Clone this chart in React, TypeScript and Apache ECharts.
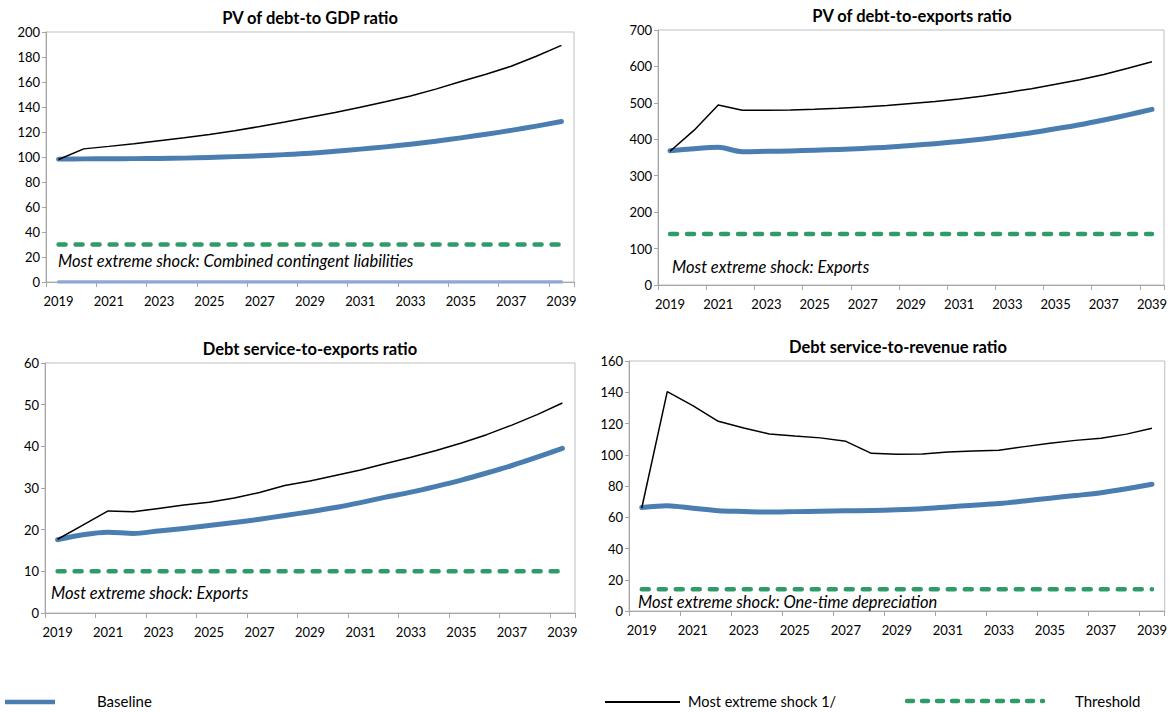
import React, { useEffect, useRef } from "react";
import * as echarts from "echarts";

const years = ["2019","2020","2021","2022","2023","2024","2025","2026","2027","2028","2029","2030","2031","2032","2033","2034","2035","2036","2037","2038","2039"];

// Panel 1: PV of debt-to GDP ratio
const gdpBaseline = [98.3, 98.5, 98.6, 98.7, 98.8, 99.1, 99.6, 100.3, 101.0, 101.9, 103.0, 104.6, 106.3, 108.1, 110.2, 112.6, 115.3, 118.2, 121.3, 124.7, 128.4];
const gdpShock = [98.0, 106.5, 108.5, 110.6, 113.0, 115.4, 118.0, 121.0, 124.4, 128.0, 131.8, 135.6, 139.8, 144.2, 148.8, 154.3, 160.4, 166.2, 172.6, 180.6, 189.3];
const gdpThreshold = [30,30,30,30,30,30,30,30,30,30,30,30,30,30,30,30,30,30,30,30,30];
const gdpZero = [0,0,0,0,0,0,0,0,0,0,0,0,0,0,0,0,0,0,0,0,0];

// Panel 2: PV of debt-to-exports ratio
const expBaseline = [368.7, 374, 378, 366, 367, 368, 370, 372, 375, 378, 383, 388, 394, 401, 409, 418, 429, 440, 453, 467, 482];
const expShock = [367, 425, 494, 479.5, 479.5, 480.5, 482.5, 485, 488.5, 493, 498.5, 504, 510.6, 519, 528.5, 539, 550.8, 563.5, 578, 595, 613];
const expThreshold = [140,140,140,140,140,140,140,140,140,140,140,140,140,140,140,140,140,140,140,140,140];

// Panel 3: Debt service-to-exports ratio
const dsExpBaseline = [17.6, 18.8, 19.4, 19.1, 19.7, 20.3, 21.0, 21.7, 22.5, 23.4, 24.3, 25.3, 26.5, 27.8, 29.0, 30.4, 31.9, 33.6, 35.4, 37.4, 39.5];
const dsExpShock = [17.7, 21.1, 24.5, 24.3, 25.1, 25.9, 26.6, 27.6, 28.9, 30.6, 31.7, 33.0, 34.3, 35.9, 37.4, 39.0, 40.8, 42.8, 45.1, 47.6, 50.4];
const dsExpThreshold = [10,10,10,10,10,10,10,10,10,10,10,10,10,10,10,10,10,10,10,10,10];

// Panel 4: Debt service-to-revenue ratio
const dsRevBaseline = [66.2, 67.4, 65.8, 64.2, 63.7, 63.3, 63.6, 63.9, 64.1, 64.3, 64.8, 65.5, 66.6, 67.7, 68.8, 70.4, 72.2, 73.9, 75.7, 78.2, 81.1];
const dsRevShock = [65.9, 140.4, 131.4, 121.4, 117.1, 113.3, 112.0, 110.8, 108.6, 100.9, 100.3, 100.5, 101.7, 102.4, 102.9, 105.2, 107.3, 109.2, 110.5, 113.2, 116.9];
const dsRevThreshold = [14,14,14,14,14,14,14,14,14,14,14,14,14,14,14,14,14,14,14,14,14];

const titles = ["PV of debt-to GDP ratio", "PV of debt-to-exports ratio", "Debt service-to-exports ratio", "Debt service-to-revenue ratio"];
const annotations = ["Most extreme shock: Combined contingent liabilities", "Most extreme shock: Exports", "Most extreme shock: Exports", "Most extreme shock: One-time depreciation"];
const yMax = [200, 700, 60, 160];
const yStep = [20, 100, 10, 20];
const legendLabels = ["Baseline", "Most extreme shock 1/", "Threshold"];

const BLUE = "#4a7eb1";
const GREEN = "#2e9b68";
const LIGHTBLUE = "#8ea8d4";
const FONT = "Lato, 'Noto Sans', sans-serif";

const grids = [
  { left: 46, top: 32, width: 528, height: 250 },
  { left: 658, top: 30, width: 508, height: 255 },
  { left: 45, top: 363, width: 530, height: 250 },
  { left: 629, top: 361, width: 538, height: 250 },
];
const annotPos = [
  { x: 58, y: 261 },
  { x: 672, y: 267 },
  { x: 51, y: 593 },
  { x: 638, y: 602 },
];

export default function App() {
  const ref = useRef<HTMLDivElement>(null);
  useEffect(() => {
    if (!ref.current) return;
    const chart = echarts.init(ref.current, undefined, { renderer: "svg" });
    const baselines = [gdpBaseline, expBaseline, dsExpBaseline, dsRevBaseline];
    const shocks = [gdpShock, expShock, dsExpShock, dsRevShock];
    const thresholds = [gdpThreshold, expThreshold, dsExpThreshold, dsRevThreshold];

    const series: any[] = [];
    grids.forEach((_, i) => {
      if (i === 0) {
        series.push({
          type: "line", xAxisIndex: i, yAxisIndex: i, data: gdpZero, showSymbol: false, silent: true,
          lineStyle: { color: LIGHTBLUE, width: 3.5, cap: "round" }, z: 1,
        });
      }
      series.push({
        name: "Threshold", type: "line", xAxisIndex: i, yAxisIndex: i, data: thresholds[i], showSymbol: false,
        lineStyle: { color: GREEN, width: 4.5, type: [7, 10], cap: "round" }, z: 2,
      });
      series.push({
        name: "Baseline", type: "line", xAxisIndex: i, yAxisIndex: i, data: baselines[i], showSymbol: false, smooth: 0.3,
        lineStyle: { color: BLUE, width: 5, cap: "round", join: "round" }, z: 3,
      });
      series.push({
        name: "Most extreme shock 1/", type: "line", xAxisIndex: i, yAxisIndex: i, data: shocks[i], showSymbol: false,
        lineStyle: { color: "#000000", width: 1.5 }, z: 4,
      });
    });

    const graphic: any[] = [];
    grids.forEach((g, i) => {
      graphic.push({
        type: "text", x: g.left + g.width / 2, y: g.top - 14,
        style: { text: titles[i], font: `bold 16.5px ${FONT}`, fill: "#000", textAlign: "center", textVerticalAlign: "middle" },
      });
      graphic.push({
        type: "text", x: annotPos[i].x, y: annotPos[i].y,
        style: { text: annotations[i], font: `italic 16.5px ${FONT}`, fill: "#000", textAlign: "left", textVerticalAlign: "middle" },
        z: 10,
      });
    });
    // legend
    graphic.push({ type: "line", shape: { x1: 5, y1: 702, x2: 55, y2: 702 }, style: { stroke: BLUE, lineWidth: 4.5 } });
    graphic.push({ type: "text", x: 97, y: 701, style: { text: legendLabels[0], font: `15px ${FONT}`, fill: "#000", textVerticalAlign: "middle" } });
    graphic.push({ type: "line", shape: { x1: 605, y1: 702, x2: 680, y2: 702 }, style: { stroke: "#000", lineWidth: 2 } });
    graphic.push({ type: "text", x: 688, y: 701, style: { text: legendLabels[1], font: `14.5px ${FONT}`, fill: "#000", textVerticalAlign: "middle" } });
    graphic.push({ type: "line", shape: { x1: 907, y1: 701, x2: 1043, y2: 701 }, style: { stroke: GREEN, lineWidth: 4.5, lineDash: [6, 9], lineCap: "round" } });
    graphic.push({ type: "text", x: 1075, y: 701, style: { text: legendLabels[2], font: `15px ${FONT}`, fill: "#000", textVerticalAlign: "middle" } });

    chart.setOption({
      animation: false,
      backgroundColor: "#ffffff",
      grid: grids.map((g) => ({ ...g, show: true, borderColor: "#bfbfbf", borderWidth: 1, containLabel: false })),
      xAxis: grids.map((_, i) => ({
        type: "category", gridIndex: i, data: years, boundaryGap: true,
        axisLine: { lineStyle: { color: "#a6a6a6" } },
        axisTick: { show: true, interval: 1, length: 5, lineStyle: { color: "#a6a6a6" } },
        axisLabel: { interval: 1, color: "#000", fontFamily: FONT, fontSize: 13, margin: 12 },
        splitLine: { show: false },
      })),
      yAxis: grids.map((_, i) => ({
        type: "value", gridIndex: i, min: 0, max: yMax[i], interval: yStep[i],
        axisLine: { show: true, lineStyle: { color: "#a6a6a6" } },
        axisTick: { show: true, length: 4, lineStyle: { color: "#a6a6a6" } },
        axisLabel: { color: "#000", fontFamily: FONT, fontSize: 13, margin: 6 },
        splitLine: { show: false },
      })),
      series,
      graphic,
    });
    return () => chart.dispose();
  }, []);
  return <div ref={ref} style={{ position: "absolute", left: 0, top: 0, width: 1170, height: 712 }} />;
}
